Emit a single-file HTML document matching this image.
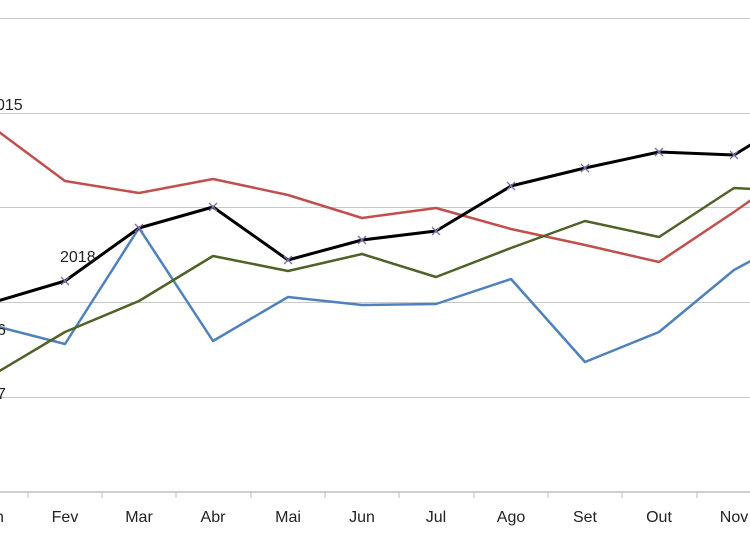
<!DOCTYPE html>
<html><head><style>body{margin:0;background:#fff}svg{display:block}</style></head><body>
<svg width="750" height="536" viewBox="0 0 750 536" xmlns="http://www.w3.org/2000/svg" font-family="Liberation Sans, sans-serif">
<g stroke="#c8c8c8" stroke-width="1">
<line x1="0" y1="18.5" x2="750" y2="18.5"/><line x1="0" y1="113.5" x2="750" y2="113.5"/>
<line x1="0" y1="207.5" x2="750" y2="207.5"/><line x1="0" y1="302.5" x2="750" y2="302.5"/>
<line x1="0" y1="397.5" x2="750" y2="397.5"/>
</g>
<line x1="0" y1="492" x2="750" y2="492" stroke="#bdbdbd" stroke-width="1.5"/>
<g stroke="#bdbdbd" stroke-width="1">
<line x1="28" y1="492" x2="28" y2="498"/><line x1="102" y1="492" x2="102" y2="498"/><line x1="176" y1="492" x2="176" y2="498"/><line x1="251" y1="492" x2="251" y2="498"/><line x1="325" y1="492" x2="325" y2="498"/><line x1="399" y1="492" x2="399" y2="498"/><line x1="474" y1="492" x2="474" y2="498"/><line x1="548" y1="492" x2="548" y2="498"/><line x1="622" y1="492" x2="622" y2="498"/><line x1="697" y1="492" x2="697" y2="498"/>
</g>
<g fill="none" stroke-width="2.5" stroke-linejoin="round">
<polyline stroke="#c0504d" points="-9,126 65,181 139,193 213,179 288,195 362,218 436,208 511,229 585,245 659,262 734,212 808,160"/>
<polyline stroke="#4f81bd" points="-9,325 65,344 139,228 213,341 288,297 362,305 436,304 511,279 585,362 659,332 734,270 808,230"/>
<polyline stroke="#4f6228" points="-9,376 65,332 139,301 213,256 288,271 362,254 436,277 511,248 585,221 659,237 734,188 808,192"/>
<polyline stroke="#000" stroke-width="3" points="-9,303 65,281 139,228 213,207 288,260 362,240 436,231 511,186 585,168 659,152 734,155 808,110"/>
</g>
<g stroke="#7f6fa8" stroke-width="1.3">
<path d="M61,277l8,8M69,277l-8,8M135,224l8,8M143,224l-8,8M209,203l8,8M217,203l-8,8M284,256l8,8M292,256l-8,8M358,236l8,8M366,236l-8,8M432,227l8,8M440,227l-8,8M507,182l8,8M515,182l-8,8M581,164l8,8M589,164l-8,8M655,148l8,8M663,148l-8,8M730,151l8,8M738,151l-8,8"/>
</g>
<g font-size="16" fill="#222">
<text x="-4" y="110">015</text>
<text x="60" y="262">2018</text>
<text x="-3" y="335">6</text>
<text x="-3" y="399">7</text>
</g>
<g font-size="16" fill="#222" text-anchor="middle">
<text x="-9" y="522">Jan</text><text x="65" y="522">Fev</text><text x="139" y="522">Mar</text><text x="213" y="522">Abr</text><text x="288" y="522">Mai</text><text x="362" y="522">Jun</text><text x="436" y="522">Jul</text><text x="511" y="522">Ago</text><text x="585" y="522">Set</text><text x="659" y="522">Out</text><text x="734" y="522">Nov</text>
</g>
</svg>
</body></html>
